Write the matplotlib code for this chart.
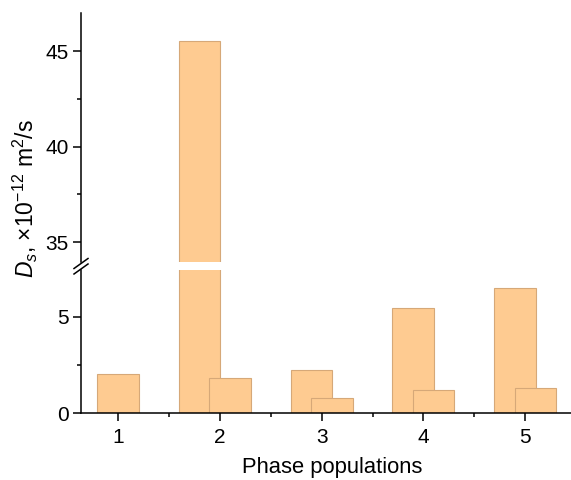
import numpy as np
import matplotlib
matplotlib.use("Agg")
import matplotlib.pyplot as plt
import matplotlib.ticker as ticker

plt.rcParams['font.family'] = ["Liberation Sans", "DejaVu Sans"]
plt.rcParams['mathtext.fontset'] = "custom"
plt.rcParams['mathtext.rm'] = "Liberation Sans"
plt.rcParams['mathtext.it'] = "Liberation Sans:italic"

# Data
populations = [1, 2, 3, 4, 5]
ds_first = [2.02, 45.52, 2.23, 5.45, 6.50]      # first component
ds_second = [None, 1.83, 0.79, 1.19, 1.31]      # second component (none for 1)
shift_first = [0.0, -0.2, -0.1, -0.1, -0.1]
shift_second = [0.0, 0.1, 0.1, 0.1, 0.1]

bar_w = 0.41
fill = "#fecb91"
edge = "#d6a878"

fig = plt.figure(figsize=(5.71, 4.8), dpi=100)
left, right = 81 / 571, 1.0
ax_top = fig.add_axes([left, 1 - 262.3 / 480, right - left, (262.3 - 13) / 480])
ax_bot = fig.add_axes([left, 1 - 413.3 / 480, right - left, (413.3 - 270) / 480])

for ax in (ax_top, ax_bot):
    for x, s, v in zip(populations, shift_first, ds_first):
        ax.bar(x + s, v, width=bar_w, color=fill, edgecolor=edge, linewidth=0.8)
    for x, s, v in zip(populations, shift_second, ds_second):
        if v is not None:
            ax.bar(x + s, v, width=bar_w, color=fill, edgecolor=edge, linewidth=0.8)
    ax.set_xlim(0.635, 5.45)
    ax.spines['top'].set_visible(False)
    ax.spines['right'].set_visible(False)
    ax.spines['left'].set_linewidth(1.1)
    ax.spines['bottom'].set_linewidth(1.1)
    ax.tick_params(which='major', direction='out', length=5.5, width=1.1, labelsize=15)
    ax.tick_params(which='minor', direction='out', length=3, width=1.1)

ax_top.set_ylim(33.95, 47.0)
ax_top.spines['bottom'].set_visible(False)
ax_top.set_xticks([])
ax_top.yaxis.set_major_locator(ticker.FixedLocator([35, 40, 45]))
ax_top.yaxis.set_minor_locator(ticker.FixedLocator([37.5, 42.5]))

ax_bot.set_ylim(0, 7.44)
ax_bot.yaxis.set_major_locator(ticker.FixedLocator([0, 5]))
ax_bot.yaxis.set_minor_locator(ticker.FixedLocator([2.5]))
ax_bot.set_xticks(populations)
ax_bot.set_xticklabels([str(p) for p in populations])
ax_bot.xaxis.set_minor_locator(ticker.FixedLocator([1.5, 2.5, 3.5, 4.5]))
ax_bot.tick_params(axis='x', pad=5)

# break marks on the left spine
for yc in (263.5, 269.0):
    yc_f = 1 - yc / 480
    fig.add_artist(plt.Line2D([74 / 571, 88 / 571], [yc_f - 5 / 480, yc_f + 5 / 480],
                              color="black", lw=1.1, transform=fig.transFigure))

fig.text(25 / 571, 1 - 199 / 480, r"$D_s$, ×10$^{\mathrm{-12}}$ m$^2$/s", rotation=90,
         ha="center", va="center", fontsize=16.5)
fig.text(332 / 571, 1 - 467 / 480, "Phase populations", ha="center", va="center", fontsize=15.8)

fig.savefig("out.png", dpi=100)
